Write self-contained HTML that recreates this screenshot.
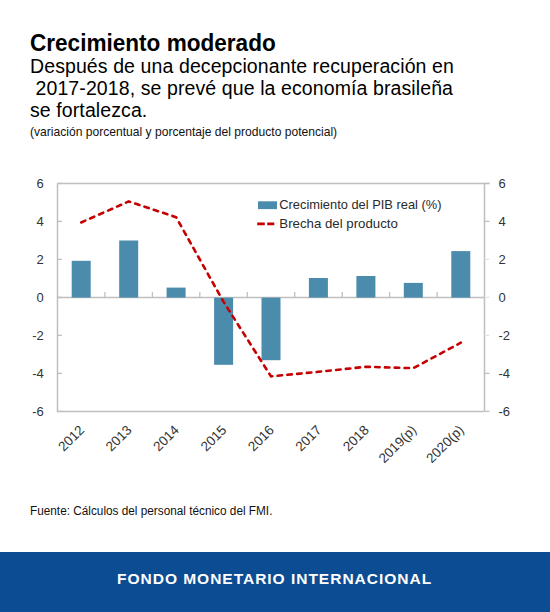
<!DOCTYPE html>
<html><head><meta charset="utf-8">
<style>
html,body{margin:0;padding:0;background:#fff;}
body{width:550px;height:612px;position:relative;overflow:hidden;font-family:"Liberation Sans",sans-serif;color:#000;}
.t{position:absolute;white-space:pre;line-height:1;}
#title{left:30.2px;top:30.9px;font-size:24px;font-weight:bold;transform:scaleX(0.94);transform-origin:0 0;}
#sub{left:30px;top:55.2px;font-size:19.5px;line-height:22px;letter-spacing:0.1px;}
#unit{left:29.5px;top:125.7px;font-size:12.6px;color:#111;transform:scaleX(0.96);transform-origin:0 0;}
#src{left:29.8px;top:505.2px;font-size:12.5px;color:#111;transform:scaleX(0.943);transform-origin:0 0;}
#band{position:absolute;left:0;top:552px;width:550px;height:60px;background:#0b4c92;}
#bandtxt{position:absolute;left:117.2px;top:571.8px;color:#fff;font-size:14.4px;font-weight:bold;letter-spacing:0.89px;transform:scaleX(1.08);transform-origin:0 0;}
svg{position:absolute;left:0;top:0;}
.ax{font-family:"Liberation Sans",sans-serif;font-size:13px;fill:#333;}
.xl{font-family:"Liberation Sans",sans-serif;font-size:13.5px;fill:#333;}
.lg{font-family:"Liberation Sans",sans-serif;font-size:13.3px;fill:#2a2a2a;}
</style></head><body>
<div class="t" id="title">Crecimiento moderado</div>
<div class="t" id="sub">Después de una decepcionante recuperación en
 2017-2018, se prevé que la economía brasileña
se fortalezca.</div>
<div class="t" id="unit">(variación porcentual y porcentaje del producto potencial)</div>
<svg width="550" height="612" viewBox="0 0 550 612">
<path d="M57.5,183.4 H489.5 M57.5,183.4 V411.4 H484.5 M484.5,183.4 V411.4" stroke="#bfbfbf" stroke-width="1.5" fill="none"/>
<path d="M57.5,297.6 H484.5" stroke="#bfbfbf" stroke-width="1.5" fill="none"/>
<path d="M57.5,183.4 H62.0" stroke="#bfbfbf" stroke-width="1.3" fill="none"/>
<path d="M484.5,183.4 H489.5" stroke="#bfbfbf" stroke-width="1.3" fill="none"/>
<path d="M57.5,221.4 H62.0" stroke="#bfbfbf" stroke-width="1.3" fill="none"/>
<path d="M484.5,221.4 H489.5" stroke="#bfbfbf" stroke-width="1.3" fill="none"/>
<path d="M57.5,259.4 H62.0" stroke="#bfbfbf" stroke-width="1.3" fill="none"/>
<path d="M484.5,259.4 H489.5" stroke="#e4e4e4" stroke-width="1.3" fill="none"/>
<path d="M57.5,297.4 H62.0" stroke="#bfbfbf" stroke-width="1.3" fill="none"/>
<path d="M484.5,297.4 H489.5" stroke="#e4e4e4" stroke-width="1.3" fill="none"/>
<path d="M57.5,335.4 H62.0" stroke="#bfbfbf" stroke-width="1.3" fill="none"/>
<path d="M484.5,335.4 H489.5" stroke="#e4e4e4" stroke-width="1.3" fill="none"/>
<path d="M57.5,373.4 H62.0" stroke="#bfbfbf" stroke-width="1.3" fill="none"/>
<path d="M484.5,373.4 H489.5" stroke="#bfbfbf" stroke-width="1.3" fill="none"/>
<path d="M57.5,411.4 H62.0" stroke="#bfbfbf" stroke-width="1.3" fill="none"/>
<path d="M484.5,411.4 H489.5" stroke="#bfbfbf" stroke-width="1.3" fill="none"/>
<path d="M104.9,297.6 V292.1" stroke="#bfbfbf" stroke-width="1.3" fill="none"/>
<path d="M152.4,297.6 V292.1" stroke="#bfbfbf" stroke-width="1.3" fill="none"/>
<path d="M199.8,297.6 V292.1" stroke="#bfbfbf" stroke-width="1.3" fill="none"/>
<path d="M247.3,297.6 V292.1" stroke="#bfbfbf" stroke-width="1.3" fill="none"/>
<path d="M294.7,297.6 V292.1" stroke="#bfbfbf" stroke-width="1.3" fill="none"/>
<path d="M342.2,297.6 V292.1" stroke="#bfbfbf" stroke-width="1.3" fill="none"/>
<path d="M389.6,297.6 V292.1" stroke="#bfbfbf" stroke-width="1.3" fill="none"/>
<path d="M437.1,297.6 V292.1" stroke="#bfbfbf" stroke-width="1.3" fill="none"/>
<rect x="71.7" y="260.8" width="19" height="36.8" fill="#4b8bac"/>
<rect x="119.2" y="240.5" width="19" height="57.1" fill="#4b8bac"/>
<rect x="166.6" y="287.6" width="19" height="10.0" fill="#4b8bac"/>
<rect x="214.1" y="297.6" width="19" height="67.2" fill="#4b8bac"/>
<rect x="261.5" y="297.6" width="19" height="62.6" fill="#4b8bac"/>
<rect x="308.9" y="278.0" width="19" height="19.6" fill="#4b8bac"/>
<rect x="356.4" y="276.0" width="19" height="21.6" fill="#4b8bac"/>
<rect x="403.8" y="282.9" width="19" height="14.7" fill="#4b8bac"/>
<rect x="451.3" y="251.1" width="19" height="46.5" fill="#4b8bac"/>
<polyline points="81.2,222.5 128.7,201.4 176.1,217.2 223.6,301.9 271.0,376.4 318.4,371.8 365.9,366.8 413.3,368.2 460.8,342.7" fill="none" stroke="#c60000" stroke-width="2.6" stroke-dasharray="4.5 5.3" stroke-linecap="round" stroke-linejoin="round"/>
<rect x="258" y="201.3" width="19" height="7.8" fill="#4b8bac"/>
<path d="M257.2,223.8 H274.3" stroke="#c60000" stroke-width="2.8" stroke-dasharray="7.6 2.4"/>
<text x="279.3" y="209.4" class="lg" textLength="162.2" lengthAdjust="spacingAndGlyphs">Crecimiento del PIB real (%)</text>
<text x="279.3" y="227.9" class="lg" textLength="118.6" lengthAdjust="spacingAndGlyphs">Brecha del producto</text>
<text x="43.8" y="188.1" class="ax" text-anchor="end">6</text>
<text x="498.4" y="188.1" class="ax">6</text>
<text x="43.8" y="226.1" class="ax" text-anchor="end">4</text>
<text x="498.4" y="226.1" class="ax">4</text>
<text x="43.8" y="264.1" class="ax" text-anchor="end">2</text>
<text x="498.4" y="264.1" class="ax">2</text>
<text x="43.8" y="302.1" class="ax" text-anchor="end">0</text>
<text x="498.4" y="302.1" class="ax">0</text>
<text x="43.8" y="340.1" class="ax" text-anchor="end">-2</text>
<text x="498.4" y="340.1" class="ax">-2</text>
<text x="43.8" y="378.1" class="ax" text-anchor="end">-4</text>
<text x="498.4" y="378.1" class="ax">-4</text>
<text x="43.8" y="416.1" class="ax" text-anchor="end">-6</text>
<text x="498.4" y="416.1" class="ax">-6</text>
<text class="xl" text-anchor="end" transform="translate(82.2,428) rotate(-45)" x="0" y="4">2012</text>
<text class="xl" text-anchor="end" transform="translate(129.7,428) rotate(-45)" x="0" y="4">2013</text>
<text class="xl" text-anchor="end" transform="translate(177.1,428) rotate(-45)" x="0" y="4">2014</text>
<text class="xl" text-anchor="end" transform="translate(224.6,428) rotate(-45)" x="0" y="4">2015</text>
<text class="xl" text-anchor="end" transform="translate(272.0,428) rotate(-45)" x="0" y="4">2016</text>
<text class="xl" text-anchor="end" transform="translate(319.4,428) rotate(-45)" x="0" y="4">2017</text>
<text class="xl" text-anchor="end" transform="translate(366.9,428) rotate(-45)" x="0" y="4">2018</text>
<text class="xl" text-anchor="end" transform="translate(414.3,428) rotate(-45)" x="0" y="4">2019(p)</text>
<text class="xl" text-anchor="end" transform="translate(461.8,428) rotate(-45)" x="0" y="4">2020(p)</text>
</svg>
<div class="t" id="src">Fuente: Cálculos del personal técnico del FMI.</div>
<div id="band"></div>
<div class="t" id="bandtxt">FONDO MONETARIO INTERNACIONAL</div>
</body></html>
